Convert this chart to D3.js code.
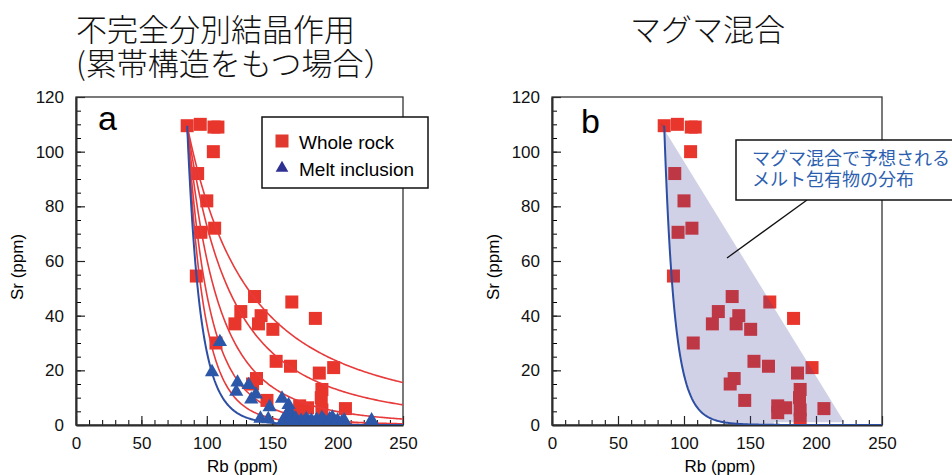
<!DOCTYPE html>
<html>
<head>
<meta charset="utf-8">
<script src="https://cdn.jsdelivr.net/npm/d3@7"></script>
<style>
  body { margin: 0; background: #fff; }
  svg text { font-family: "Liberation Sans", Arial, sans-serif; }
  .jp { font-family: "Noto Sans CJK JP", sans-serif !important; }
</style>
</head>
<body>
<svg width="952" height="475"></svg>
<script>
// whole rock (red squares), same in both panels
const rockRb = [85, 95, 105.5, 108.5, 105, 93, 100, 95.5, 106, 92, 136.5, 165, 126, 141.5, 183, 121.5, 139.5, 150.5, 107, 153, 164, 197, 186, 138, 135, 188, 187.5, 146, 171, 177, 206, 171, 188, 188];
const rockSr = [109.5, 110, 109, 109, 100, 92, 82, 70.5, 72, 54.5, 47, 45, 41.5, 40, 39, 37, 37, 35, 30, 23.3, 21.5, 21, 19, 17, 15, 13, 10, 9, 7, 6.3, 6, 4.5, 5.5, 2];

// melt inclusions (blue triangles), panel a only
const meltRb = [110, 104, 123.5, 132, 122.5, 137.5, 134, 157.5, 162.5, 148, 163, 141, 147, 164,
  158, 160, 162, 164, 166, 168, 170, 172, 174, 176, 178, 180, 182, 184, 186, 188, 190, 192, 194, 196, 198, 200, 203, 205, 226];
const meltSr = [30, 19, 15.2, 14.3, 11.8, 10.8, 9, 9.3, 7, 6.2, 5, 2, 1.8, 3.5,
  1, 2.5, 0.5, 1.5, 0.8, 2, 0.5, 1.2, 0.6, 1.8, 0.8, 1.3, 0.4, 1.6, 0.7, 2.2, 1, 0.5, 1.8, 2.4, 0.8, 1.3, 0.6, 1.4, 1.4];

// fractional crystallization model: Sr = Sr0 * (Rb0/Rb)^(D-1)
const modelStart = [85, 109.5];
const redExponents = [1.81, 2.5, 3.63, 5.1, 6.7];
const blueExponentA = 8.66;
const blueExponentB = 11;

// mixing field in panel b (Rb, Sr)
const mixApex = [82, 110.5];
const mixEnd = [221.5, 1];
const mixFoot = [168, 1];

const xTicks = [0, 50, 100, 150, 200, 250];
const yTicks = [0, 20, 40, 60, 80, 100, 120];

const titleA = ["不完全分別結晶作用", "(累帯構造をもつ場合）"];
const titleB = "マグマ混合";
const noteB = ["マグマ混合で予想される", "メルト包有物の分布"];

const svg = d3.select("svg");

function modelCurve(k) {
  let rbs = d3.range(modelStart[0], 100, 0.2).concat(d3.range(100, 250.5, 1));
  return rbs.map(rb => [rb, modelStart[1] * Math.pow(modelStart[0] / rb, k)]);
}

function drawPanel(x0, x1, id) {
  let xScale = d3.scaleLinear().domain([0, 250]).range([x0, x1]);
  let yScale = d3.scaleLinear().domain([0, 120]).range([425, 97]);
  let g = svg.append("g");
  let line = d3.line().x(d => xScale(d[0])).y(d => yScale(d[1]));

  g.append("clipPath").attr("id", "clip" + id)
    .append("rect")
    .attr("x", x0).attr("y", 97)
    .attr("width", x1 - x0).attr("height", 328);

  // minor ticks
  g.append("g").attr("transform", "translate(0,425)")
    .call(d3.axisBottom(xScale).tickValues(d3.range(0, 251, 10)).tickSize(-5).tickSizeOuter(0).tickFormat(""))
    .call(a => a.select(".domain").remove());
  g.append("g").attr("transform", "translate(" + x0 + ",0)")
    .call(d3.axisLeft(yScale).tickValues(d3.range(0, 121, 5)).tickSize(-5).tickSizeOuter(0).tickFormat(""))
    .call(a => a.select(".domain").remove());

  // major ticks + labels
  let xAxis = g.append("g").attr("transform", "translate(0,425)")
    .call(d3.axisBottom(xScale).tickValues(xTicks).tickSize(-9).tickSizeOuter(0).tickPadding(12));
  let yAxis = g.append("g").attr("transform", "translate(" + x0 + ",0)")
    .call(d3.axisLeft(yScale).tickValues(yTicks).tickSize(-9).tickSizeOuter(0).tickPadding(12));
  [xAxis, yAxis].forEach(a => {
    a.selectAll("text").style("font-size", "17px").attr("fill", "#111");
    a.selectAll("line").attr("stroke", "#222").attr("stroke-width", 1.2);
    a.select(".domain").attr("stroke", "#222").attr("stroke-width", 2);
  });

  // frame
  g.append("rect")
    .attr("x", x0).attr("y", 97)
    .attr("width", x1 - x0).attr("height", 328)
    .attr("fill", "none").attr("stroke", "#333").attr("stroke-width", 1.3);

  // axis titles
  g.append("text")
    .attr("x", (x0 + x1) / 2 + 3).attr("y", 472)
    .attr("text-anchor", "middle").style("font-size", "17px")
    .text("Rb (ppm)");
  g.append("text")
    .attr("transform", "translate(" + (x0 - 53) + ",267) rotate(-90)")
    .attr("text-anchor", "middle").style("font-size", "17px")
    .text("Sr (ppm)");

  let plot = g.append("g").attr("clip-path", "url(#clip" + id + ")");

  // squares
  plot.selectAll("rect.rock")
    .data(rockRb.map((rb, i) => [rb, rockSr[i]]))
    .enter().append("rect")
    .attr("class", "rock")
    .attr("x", d => xScale(d[0]) - 6.5)
    .attr("y", d => yScale(d[1]) - 6.5)
    .attr("width", 13).attr("height", 13)
    .attr("fill", "#e8362c");

  return { g, plot, xScale, yScale, line };
}

// ---------- panel a
let pa = drawPanel(76, 403, "a");
redExponents.forEach(k => {
  pa.plot.append("path").attr("d", pa.line(modelCurve(k)))
    .attr("fill", "none").attr("stroke", "#e83a3a").attr("stroke-width", 1.6);
});
pa.plot.append("path").attr("d", pa.line(modelCurve(blueExponentA)))
  .attr("fill", "none").attr("stroke", "#2d4ea3").attr("stroke-width", 2);

let tri = d3.symbol().type(d3.symbolTriangle).size(88);
pa.plot.selectAll("path.melt")
  .data(meltRb.map((rb, i) => [rb, meltSr[i]]))
  .enter().append("path")
  .attr("class", "melt")
  .attr("d", tri)
  .attr("transform", d => "translate(" + pa.xScale(d[0]) + "," + (pa.yScale(d[1]) - 1) + ")")
  .attr("fill", "#2c57a8");

pa.g.append("text").attr("x", 98).attr("y", 130).style("font-size", "34px").text("a");

// legend
let leg = pa.g.append("g");
leg.append("rect").attr("x", 262).attr("y", 117).attr("width", 166).attr("height", 71)
  .attr("fill", "#fff").attr("stroke", "#111").attr("stroke-width", 1.5);
leg.append("rect").attr("x", 275.5).attr("y", 134.5).attr("width", 13).attr("height", 13).attr("fill", "#e03a30");
leg.append("path").attr("d", d3.symbol().type(d3.symbolTriangle).size(70))
  .attr("transform", "translate(282,168)").attr("fill", "#2e3192");
leg.append("text").attr("x", 299).attr("y", 149).style("font-size", "19px").text("Whole rock");
leg.append("text").attr("x", 299).attr("y", 176).style("font-size", "19px").text("Melt inclusion");

// ---------- panel b
let pb = drawPanel(552, 882, "b");
let curveB = modelCurve(blueExponentB).filter(d => d[0] <= mixFoot[0]);
let field = [mixApex, mixEnd, mixFoot].concat(curveB.slice().reverse());
pb.plot.append("path").attr("d", pb.line(field) + "Z")
  .attr("fill", "#3a3c96").attr("fill-opacity", 0.24);
pb.plot.append("path").attr("d", pb.line(modelCurve(blueExponentB)))
  .attr("fill", "none").attr("stroke", "#2d4ea3").attr("stroke-width", 2);

pb.g.append("text").attr("x", 581).attr("y", 133).style("font-size", "34px").text("b");

// annotation
pb.g.append("line").attr("x1", 807).attr("y1", 200).attr("x2", 727).attr("y2", 258)
  .attr("stroke", "#111").attr("stroke-width", 1.3);
pb.g.append("rect").attr("x", 736).attr("y", 140).attr("width", 240).attr("height", 60)
  .attr("fill", "#fff").attr("stroke", "#111").attr("stroke-width", 1.5);
let note = pb.g.append("text").attr("class", "jp").attr("y", 165)
  .style("font-size", "18px").attr("fill", "#2d5fb0");
noteB.forEach((t, i) => {
  note.append("tspan").attr("x", 752).attr("dy", i === 0 ? 0 : 21).text(t);
});

// titles
let tA = svg.append("text").attr("class", "jp").attr("y", 41)
  .style("font-size", "31px").style("font-weight", 300).attr("fill", "#111");
titleA.forEach((t, i) => {
  tA.append("tspan").attr("x", 76).attr("dy", i === 0 ? 0 : 34).text(t);
});
svg.append("text").attr("class", "jp").attr("x", 630).attr("y", 41)
  .style("font-size", "31px").style("font-weight", 300).attr("fill", "#111").text(titleB);
</script>
</body>
</html>
